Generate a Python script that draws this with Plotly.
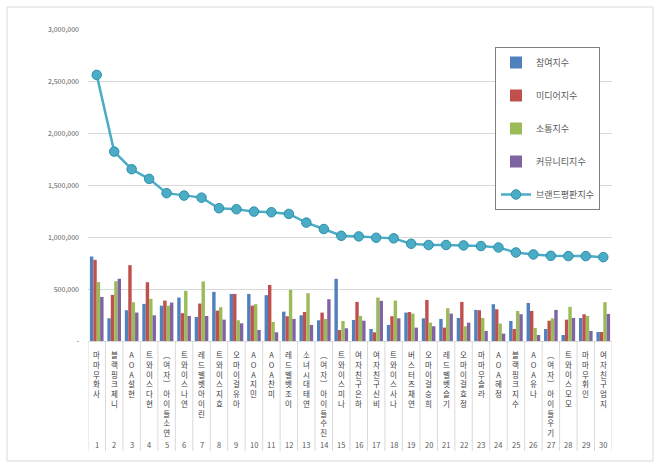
"""Brand reputation index: female idol members, grouped index bars plus total line."""

import plotly.graph_objects as go

RANKS = [str(i) for i in range(1, 31)]
NAMES = [
    "마마무 화사", "블랙핑크 제니", "AOA 설현", "트와이스 다현", "(여자)아이들 소연",
    "트와이스 나연", "레드벨벳 아이린", "트와이스 지효", "오마이걸 유아", "AOA 지민",
    "AOA 찬미", "레드벨벳 조이", "소녀시대 태연", "(여자)아이들 수진", "트와이스 미나",
    "여자친구 은하", "여자친구 신비", "트와이스 사나", "버스터즈 채연", "오마이걸 승희",
    "레드벨벳 슬기", "오마이걸 효정", "마마무 솔라", "AOA 혜정", "블랙핑크 지수",
    "AOA 유나", "(여자)아이들 우기", "트와이스 모모", "마마무 휘인", "여자친구 엄지",
]

PARTICIPATION = [
    815000, 219000, 297000, 358000, 341000, 419000, 232000, 474000, 454000, 454000,
    442000, 283000, 248000, 200000, 600000, 203000, 116000, 155000, 274000, 219000,
    213000, 222000, 300000, 355000, 193000, 367000, 116000, 58000, 222000, 87000,
]
MEDIA = [
    783000, 445000, 732000, 567000, 390000, 268000, 361000, 293000, 454000, 341000,
    541000, 239000, 280000, 274000, 106000, 377000, 84000, 239000, 280000, 396000,
    129000, 377000, 297000, 306000, 116000, 290000, 196000, 206000, 258000, 87000,
]
COMMUNICATION = [
    568000, 577000, 374000, 406000, 341000, 484000, 574000, 326000, 200000, 355000,
    184000, 493000, 461000, 213000, 193000, 242000, 419000, 390000, 264000, 177000,
    316000, 142000, 222000, 168000, 290000, 126000, 219000, 329000, 242000, 374000,
]
COMMUNITY = [
    425000, 600000, 274000, 248000, 371000, 242000, 241000, 206000, 171000, 106000,
    84000, 213000, 155000, 403000, 123000, 196000, 387000, 219000, 129000, 142000,
    264000, 177000, 97000, 71000, 258000, 58000, 300000, 222000, 97000, 261000,
]
BRAND = [
    2567000, 1827000, 1657000, 1564000, 1426000, 1403000, 1383000, 1281000, 1271000, 1248000,
    1242000, 1226000, 1142000, 1080000, 1015000, 1009000, 996000, 990000, 938000, 926000,
    926000, 922000, 916000, 902000, 854000, 835000, 822000, 819000, 819000, 809000,
]

Y_TICKS = [0, 500000, 1000000, 1500000, 2000000, 2500000, 3000000]

_BAR_SERIES = [
    ("참여지수", PARTICIPATION, "#4F81BD"),
    ("미디어지수", MEDIA, "#C0504D"),
    ("소통지수", COMMUNICATION, "#9BBB59"),
    ("커뮤니티지수", COMMUNITY, "#8064A2"),
]
_LINE_COLOR = "#4BACC6"
_GRID = "#D9D9D9"
_FONT = "Noto Sans CJK KR"

# Pixel geometry of the plot area (fixed margins below).
_LEFT, _RIGHT = 88, 612
_TOP, _BOTTOM = 30, 341
_PLOT_W = _RIGHT - _LEFT
_PLOT_H = _BOTTOM - _TOP


def _paper_x(px: float) -> float:
    return (px - _LEFT) / _PLOT_W


def _paper_y(px: float) -> float:
    return (_BOTTOM - px) / _PLOT_H


def _vertical(name: str) -> str:
    """Stack a label one glyph per line, like Excel's vertical category text."""
    swap = {"(": "︵", ")": "︶"}
    return "<br>".join(swap.get(ch, ch) for ch in name if ch != " ")


fig = go.Figure()
for name, values, color in _BAR_SERIES:
    fig.add_bar(
        x=NAMES,
        y=values,
        name=name,
        legendgroup=name,
        marker={"color": color, "line": {"width": 0}},
    )
fig.add_scatter(
    x=NAMES,
    y=BRAND,
    mode="lines+markers",
    name="브랜드평판지수",
    legendgroup="brand",
    line={"color": _LINE_COLOR, "width": 2.5},
    marker={"color": _LINE_COLOR, "size": 9.5, "line": {"color": "#2E8FAA", "width": 1}},
)

annotations = []
for i, (rank, name) in enumerate(zip(RANKS, NAMES)):
    annotations.append(
        {
            "x": i,
            "xref": "x",
            "y": _paper_y(348),
            "yref": "paper",
            "text": _vertical(name),
            "showarrow": False,
            "xanchor": "center",
            "yanchor": "top",
            "borderpad": 0,
            "font": {"size": 7.5, "color": "#404040"},
        }
    )
    annotations.append(
        {
            "x": i,
            "xref": "x",
            "y": _paper_y(444),
            "yref": "paper",
            "text": rank,
            "showarrow": False,
            "yanchor": "middle",
            "borderpad": 0,
            "font": {"size": 7.5, "color": "#595959"},
        }
    )

# category separators hanging below the axis, as in the spreadsheet chart
shapes = [
    {
        "type": "line",
        "xref": "x",
        "yref": "paper",
        "x0": i - 0.5,
        "x1": i - 0.5,
        "y0": 0,
        "y1": _paper_y(451),
        "line": {"color": _GRID, "width": 1},
    }
    for i in range(len(NAMES) + 1)
]
shapes.append(
    {
        "type": "rect",
        "xref": "paper",
        "yref": "paper",
        "x0": _paper_x(7),
        "x1": _paper_x(653),
        "y0": _paper_y(461),
        "y1": _paper_y(7),
        "line": {"color": _GRID, "width": 1},
        "layer": "below",
    }
)

fig.update_layout(
    width=660,
    height=468,
    margin={"l": _LEFT, "r": 660 - _RIGHT, "t": _TOP, "b": 468 - _BOTTOM, "autoexpand": False},
    paper_bgcolor="white",
    plot_bgcolor="white",
    font={"family": _FONT, "color": "#404040"},
    barmode="group",
    bargap=0.22,
    bargroupgap=0,
    showlegend=True,
    legend={
        "x": _paper_x(495),
        "y": _paper_y(47),
        "xanchor": "left",
        "yanchor": "top",
        "bordercolor": "#7F7F7F",
        "borderwidth": 1,
        "bgcolor": "white",
        "font": {"size": 9, "color": "#595959"},
        "tracegroupgap": 14,
        "itemwidth": 30,
    },
    annotations=annotations,
    shapes=shapes,
)
fig.update_yaxes(
    range=[0, 3000000],
    tickvals=Y_TICKS,
    ticktext=["-" if v == 0 else f"{v:,}" for v in Y_TICKS],
    tickfont={"size": 7, "color": "#595959"},
    showgrid=True,
    gridcolor=_GRID,
    gridwidth=1,
    zeroline=False,
    showline=False,
    ticks="",
    ticklabelstandoff=8,
)
fig.update_xaxes(
    type="category",
    range=[-0.5, len(NAMES) - 0.5],
    showticklabels=False,
    showline=True,
    linecolor=_GRID,
    showgrid=False,
    ticks="",
)

# the page body carries a default 8px margin; drop it so the chart fills the window
fig.write_html(
    "out.html",
    config={"displayModeBar": False},
    post_script="document.body.style.margin = '0';",
)
